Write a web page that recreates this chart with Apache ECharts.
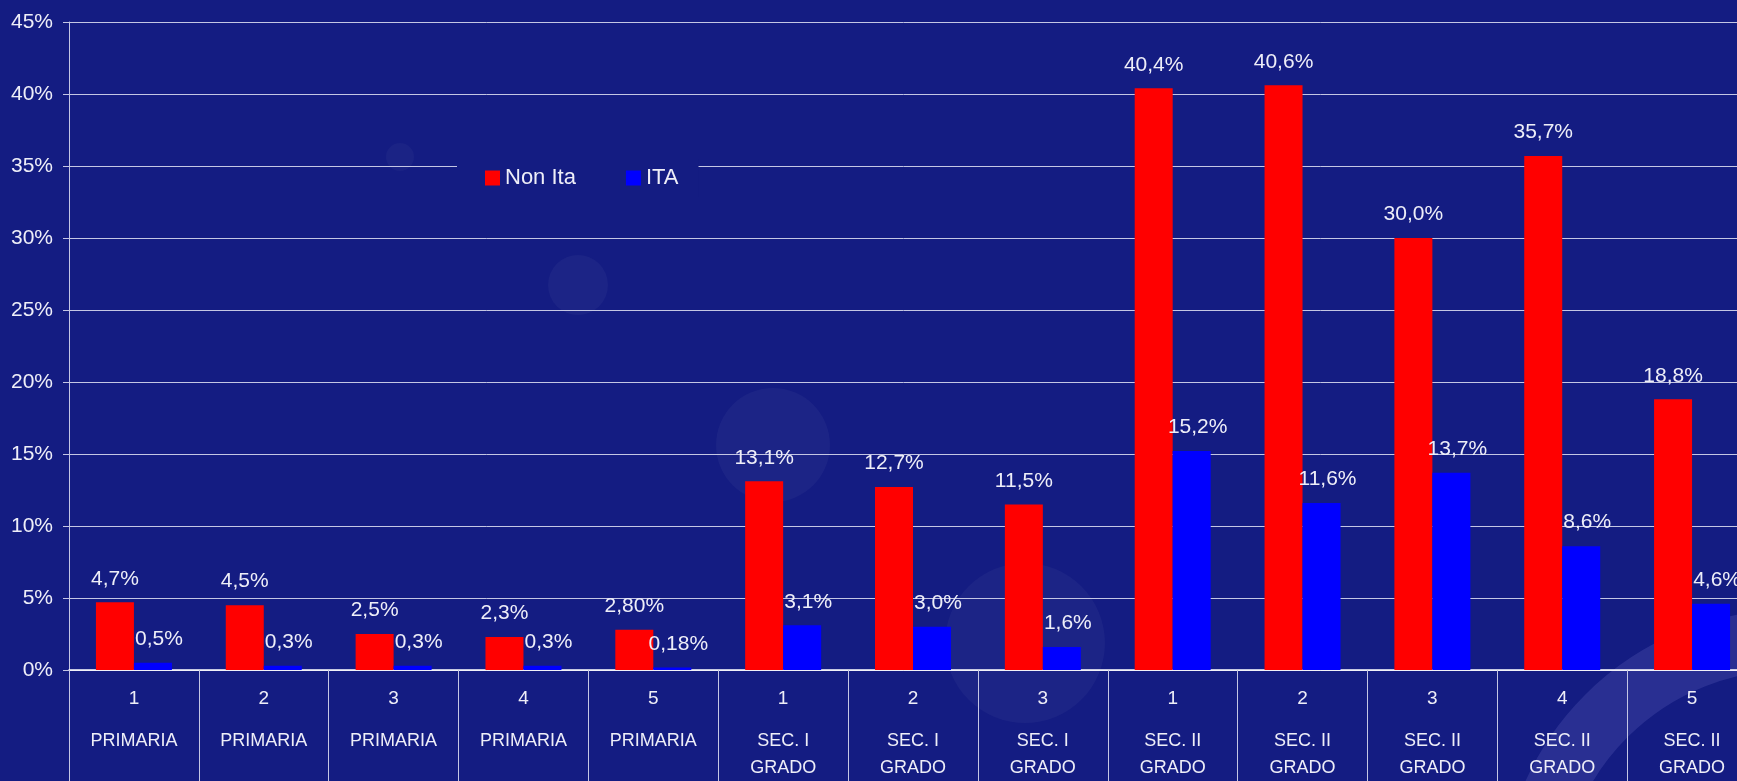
<!DOCTYPE html>
<html>
<head>
<meta charset="utf-8">
<script src="https://cdn.jsdelivr.net/npm/echarts@6/dist/echarts.min.js"></script>
<style>
  html, body { margin: 0; padding: 0; background: #141c82; }
  #chart { width: 1737px; height: 781px; }
</style>
</head>
<body>
<div id="chart"></div>
<script>
// classi (numero + livello scolastico)
var classNumbers = ['1', '2', '3', '4', '5', '1', '2', '3', '1', '2', '3', '4', '5'];
var schoolLevels = ['PRIMARIA', 'PRIMARIA', 'PRIMARIA', 'PRIMARIA', 'PRIMARIA',
  'SEC. I\nGRADO', 'SEC. I\nGRADO', 'SEC. I\nGRADO',
  'SEC. II\nGRADO', 'SEC. II\nGRADO', 'SEC. II\nGRADO', 'SEC. II\nGRADO', 'SEC. II\nGRADO'];

// percentuali
var nonIta = [4.7, 4.5, 2.5, 2.3, 2.8, 13.1, 12.7, 11.5, 40.4, 40.6, 30.0, 35.7, 18.8];
var ita = [0.5, 0.3, 0.3, 0.3, 0.18, 3.1, 3.0, 1.6, 15.2, 11.6, 13.7, 8.6, 4.6];

// etichette come nel grafico originale
var nonItaText = ['4,7%', '4,5%', '2,5%', '2,3%', '2,80%', '13,1%', '12,7%', '11,5%', '40,4%', '40,6%', '30,0%', '35,7%', '18,8%'];
var itaText = ['0,5%', '0,3%', '0,3%', '0,3%', '0,18%', '3,1%', '3,0%', '1,6%', '15,2%', '11,6%', '13,7%', '8,6%', '4,6%'];

var font = "'Liberation Sans', Arial, sans-serif";
var bg = '#141c82';
var lineColor = '#c4c6e4';
var txt = '#eeeef8';

var myChart = echarts.init(document.getElementById('chart'));

myChart.setOption({
  backgroundColor: bg,
  textStyle: { fontFamily: font },
  // bolle decorative dello sfondo
  graphic: [
    { type: 'circle', z: -1, shape: { cx: 400, cy: 157, r: 14 }, style: { fill: 'rgba(255,255,255,0.03)' } },
    { type: 'circle', z: -1, shape: { cx: 578, cy: 285, r: 30 }, style: { fill: 'rgba(255,255,255,0.035)' } },
    { type: 'circle', z: -1, shape: { cx: 773, cy: 445, r: 57 }, style: { fill: 'rgba(255,255,255,0.035)' } },
    { type: 'circle', z: -1, shape: { cx: 1025, cy: 643, r: 80 }, style: { fill: 'rgba(255,255,255,0.035)' } },
    { type: 'circle', z: -1, shape: { cx: 1790, cy: 900, r: 260 }, style: { fill: 'none', stroke: 'rgba(140,140,220,0.18)', lineWidth: 60 } }
  ],
  legend: {
    data: ['Non Ita', 'ITA'],
    left: 457,
    top: 159,
    padding: [8, 20, 8, 28],
    backgroundColor: bg,
    itemWidth: 15,
    itemHeight: 15,
    itemGap: 50,
    icon: 'rect',
    textStyle: { color: txt, fontSize: 22, fontFamily: font }
  },
  grid: {
    left: 69,
    top: 22,
    width: 1688,
    height: 648,
    containLabel: false,
    outerBoundsMode: 'none'
  },
  xAxis: {
    type: 'category',
    data: classNumbers,
    axisLine: { show: true, lineStyle: { color: '#ffffff', width: 1.5 } },
    axisTick: { show: true, interval: 0, length: 120, lineStyle: { color: lineColor } },
    axisLabel: {
      interval: 0,
      margin: 0,
      color: txt,
      fontFamily: font,
      formatter: function (value, idx) {
        var lines = schoolLevels[idx].split('\n').map(function (s) { return '{t|' + s + '}'; });
        return '{n|' + value + '}\n' + lines.join('\n');
      },
      rich: {
        n: { fontSize: 19, lineHeight: 58, color: txt, fontFamily: font },
        t: { fontSize: 18, lineHeight: 27, color: txt, fontFamily: font }
      }
    }
  },
  yAxis: {
    type: 'value',
    min: 0,
    max: 45,
    interval: 5,
    axisLine: { show: true, lineStyle: { color: lineColor } },
    axisTick: { show: true, length: 6, lineStyle: { color: lineColor } },
    axisLabel: { formatter: '{value}%', color: txt, fontSize: 21, margin: 16, fontFamily: font },
    splitLine: { show: true, lineStyle: { color: lineColor, width: 1 } }
  },
  series: [
    {
      name: 'Non Ita',
      type: 'bar',
      data: nonIta,
      barWidth: 38,
      barGap: '0%',
      itemStyle: { color: '#ff0000' },
      label: {
        show: true,
        position: 'top',
        distance: 13,
        color: txt,
        fontSize: 21,
        fontFamily: font,
        formatter: function (p) { return nonItaText[p.dataIndex]; }
      }
    },
    {
      name: 'ITA',
      type: 'bar',
      data: ita,
      barWidth: 38,
      barGap: '0%',
      itemStyle: { color: '#0000ff' },
      label: {
        show: true,
        position: 'top',
        distance: 13,
        offset: [6, 0],
        color: txt,
        fontSize: 21,
        fontFamily: font,
        formatter: function (p) { return itaText[p.dataIndex]; }
      }
    }
  ]
});
</script>
</body>
</html>
